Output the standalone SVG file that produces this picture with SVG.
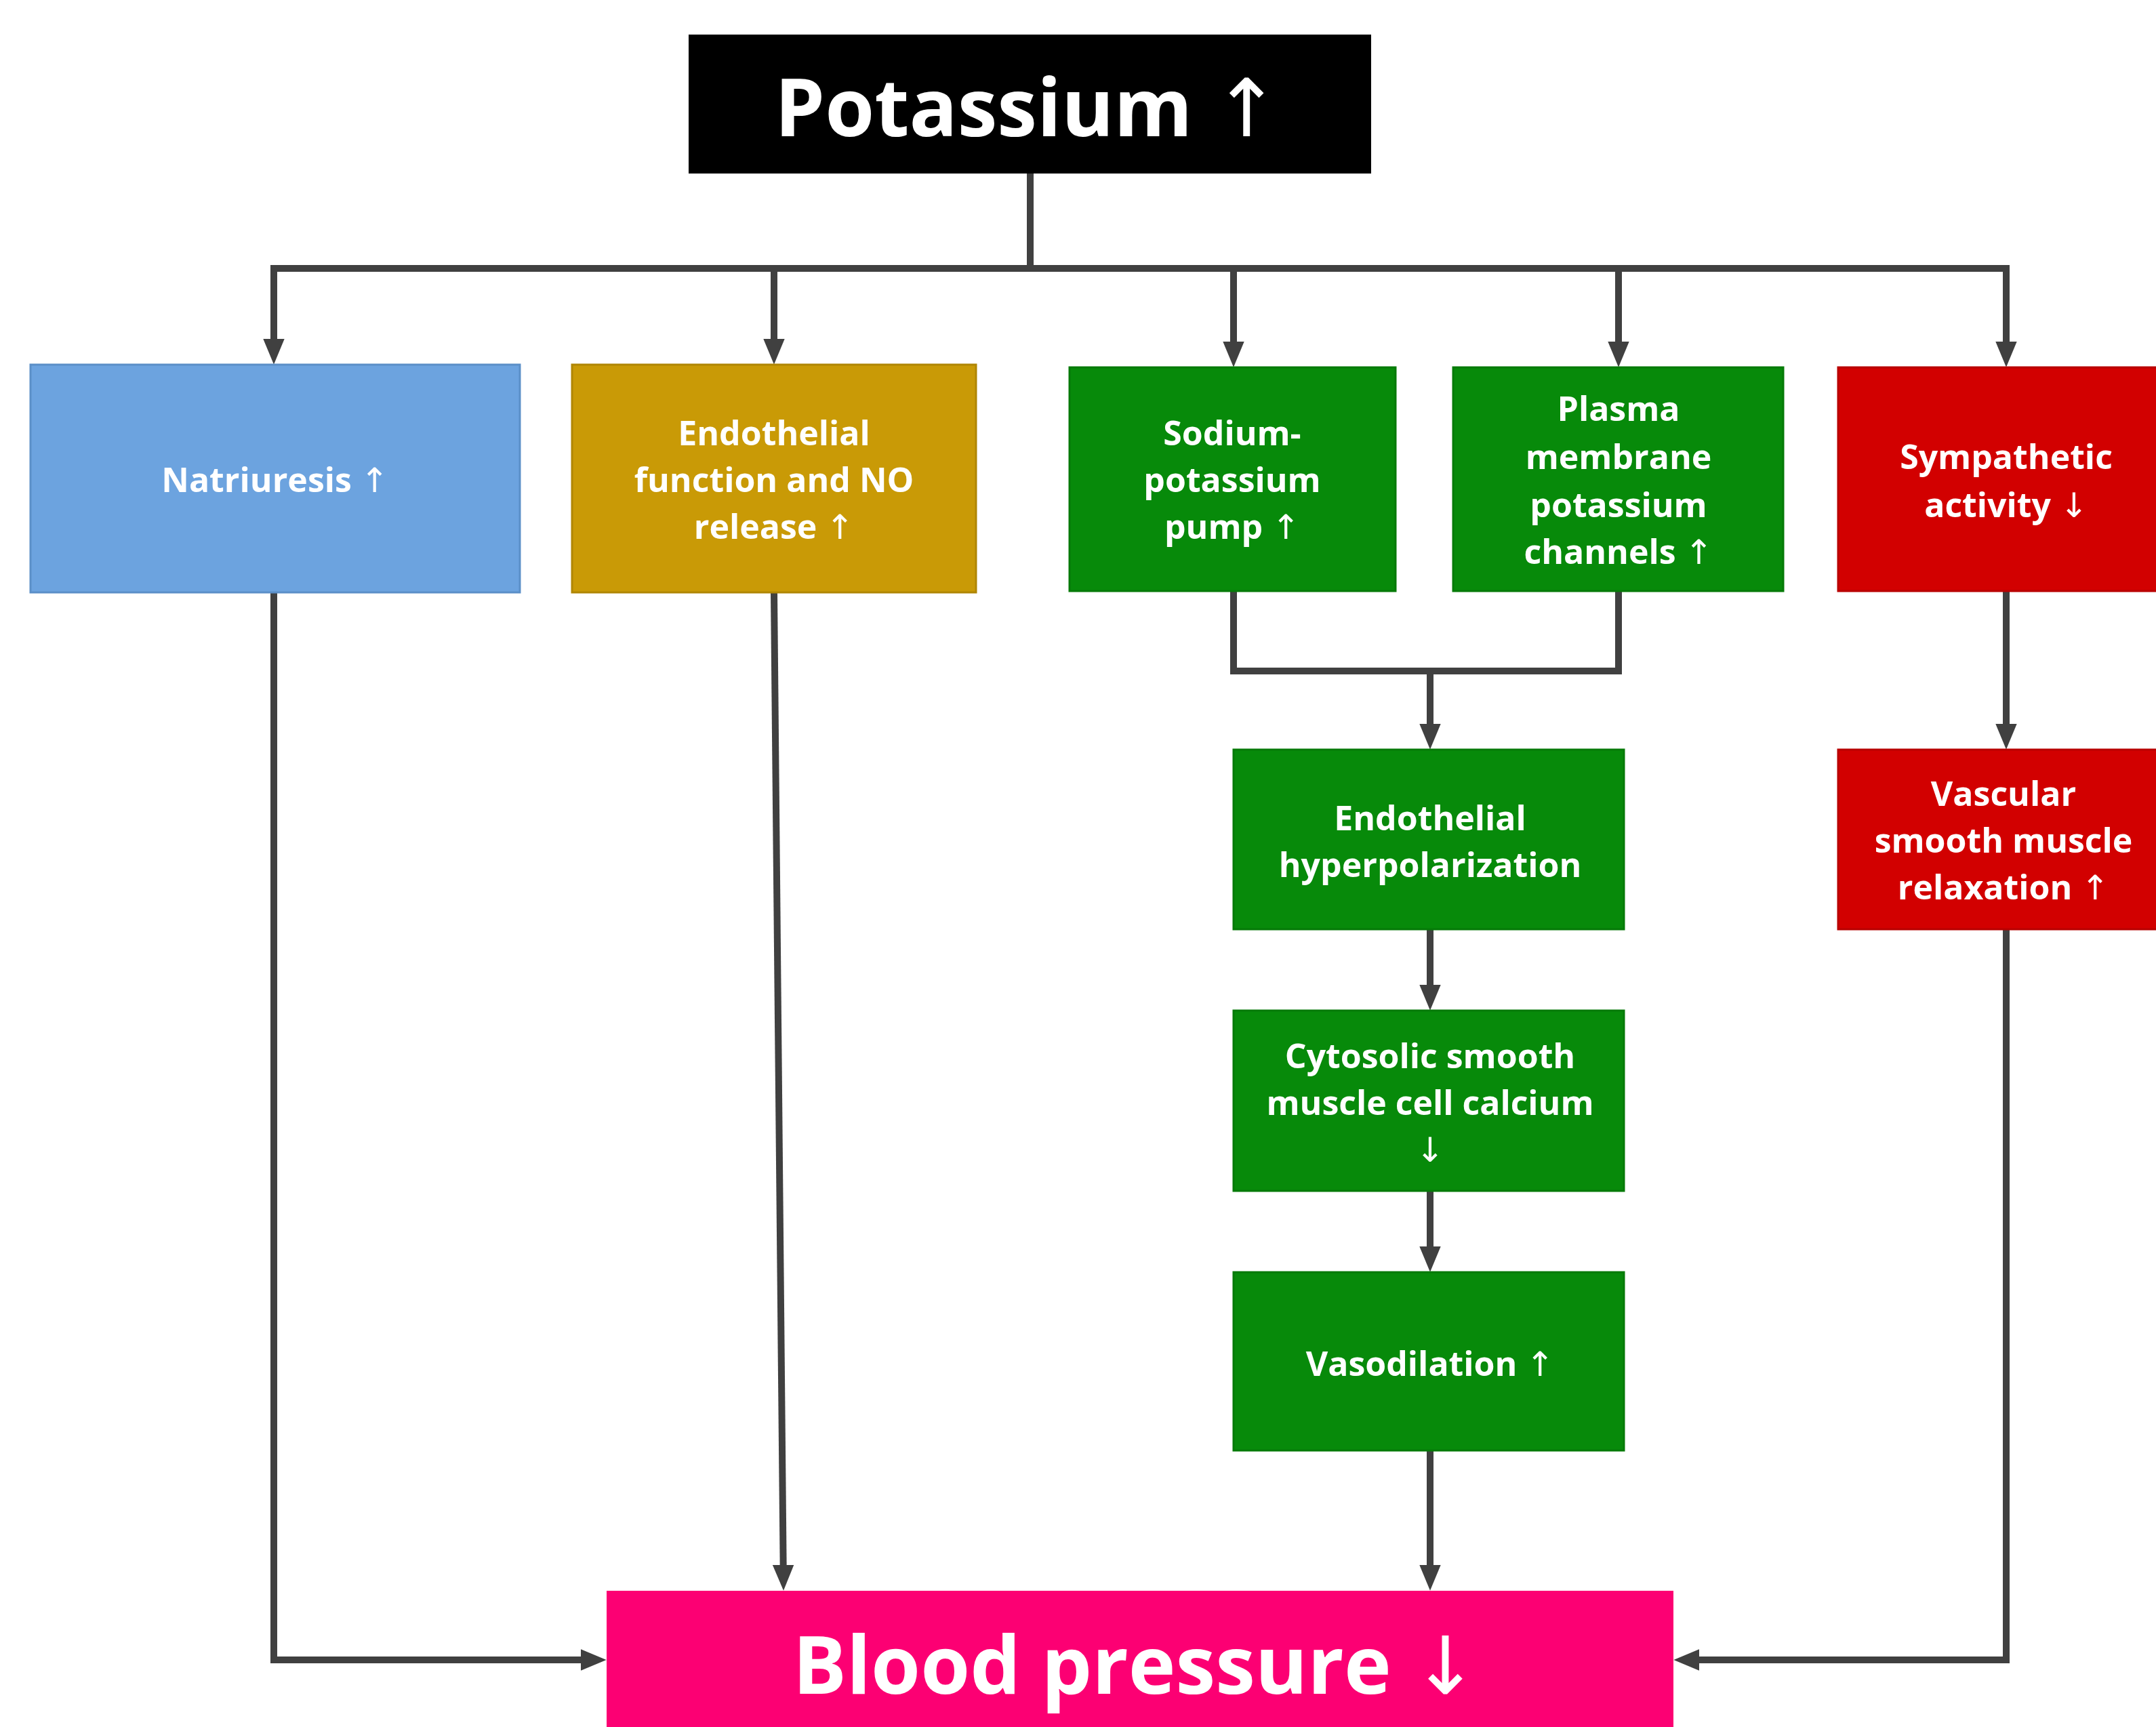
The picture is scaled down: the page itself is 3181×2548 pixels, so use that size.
<svg xmlns="http://www.w3.org/2000/svg" width="3181" height="2548" viewBox="0 0 3181 2548">
<style>
.t{font-family:"Open Sans","Liberation Sans",sans-serif;font-weight:bold;fill:#fff;text-anchor:middle}
.s{font-size:50px}
.b{font-size:118px}
.a{font-family:"DejaVu Sans",sans-serif;font-weight:normal}
.c{fill:none;stroke:#404040;stroke-width:10;stroke-linejoin:miter}
.blue{fill:#6CA3DF;stroke:#5B8FC8;stroke-width:3}
.gold{fill:#C99A06;stroke:#B08604;stroke-width:3}
.green{fill:#078A0A;stroke:#067A08;stroke-width:3}
.red{fill:#D20000;stroke:#B80000;stroke-width:3}
</style>
<defs>
<marker id="ah" viewBox="0 0 12 10" refX="2" refY="5" markerWidth="38" markerHeight="32" markerUnits="userSpaceOnUse" orient="auto">
<path d="M0,0 L12,5 L0,10 z" fill="#404040"/>
</marker>
</defs>
<rect width="3181" height="2548" fill="#fff"/>
<g id="connectors">
<path class="c" d="M1520,256 V396"/>
<path class="c" d="M404,396 H2960" stroke-linecap="square"/>
<path class="c" d="M404,396 V506" marker-end="url(#ah)"/>
<path class="c" d="M1142,396 V506" marker-end="url(#ah)"/>
<path class="c" d="M1820,396 V510" marker-end="url(#ah)"/>
<path class="c" d="M2388,396 V510" marker-end="url(#ah)"/>
<path class="c" d="M2960,396 V510" marker-end="url(#ah)"/>
<path class="c" d="M1820,872 V990 H2388 V872"/>
<path class="c" d="M2110,990 V1074" marker-end="url(#ah)"/>
<path class="c" d="M2110,1371 V1459" marker-end="url(#ah)"/>
<path class="c" d="M2110,1757 V1845" marker-end="url(#ah)"/>
<path class="c" d="M2110,2140 V2315" marker-end="url(#ah)"/>
<path class="c" d="M2960,872 V1074" marker-end="url(#ah)"/>
<path class="c" d="M2960,1371 V2449 H2501" marker-end="url(#ah)"/>
<path class="c" d="M404,874 V2449 H863" marker-end="url(#ah)"/>
<path class="c" d="M1142,874 L1155.7,2315" marker-end="url(#ah)"/>
</g>
<g id="potassium">
<rect x="1016" y="51" width="1007" height="205" fill="#000"/>
<text class="t b" x="1516" y="201">Potassium <tspan class="a">↑</tspan></text>
</g>
<g id="natriuresis">
<rect class="blue" x="45" y="538" width="722" height="336"/>
<text class="t s" x="406" y="726">Natriuresis <tspan class="a">↑</tspan></text>
</g>
<g id="endothelial-function">
<rect class="gold" x="844" y="538" width="596" height="336"/>
<text class="t s" x="1142" y="657">Endothelial</text>
<text class="t s" x="1142" y="726">function and NO</text>
<text class="t s" x="1142" y="795">release <tspan class="a">↑</tspan></text>
</g>
<g id="sodium-potassium-pump">
<rect class="green" x="1578" y="542" width="481" height="330"/>
<text class="t s" x="1818" y="657">Sodium-</text>
<text class="t s" x="1818" y="726">potassium</text>
<text class="t s" x="1818" y="795">pump <tspan class="a">↑</tspan></text>
</g>
<g id="plasma-membrane">
<rect class="green" x="2144" y="542" width="487" height="330"/>
<text class="t s" x="2388" y="621">Plasma</text>
<text class="t s" x="2388" y="692">membrane</text>
<text class="t s" x="2388" y="763">potassium</text>
<text class="t s" x="2388" y="832">channels <tspan class="a">↑</tspan></text>
</g>
<g id="sympathetic">
<rect class="red" x="2712" y="542" width="480" height="330"/>
<text class="t s" x="2960" y="692">Sympathetic</text>
<text class="t s" x="2960" y="763">activity <tspan class="a">↓</tspan></text>
</g>
<g id="hyperpolarization">
<rect class="green" x="1820" y="1106" width="576" height="265"/>
<text class="t s" x="2110" y="1225">Endothelial</text>
<text class="t s" x="2110" y="1294">hyperpolarization</text>
</g>
<g id="cytosolic">
<rect class="green" x="1820" y="1491" width="576" height="266"/>
<text class="t s" x="2110" y="1576">Cytosolic smooth</text>
<text class="t s" x="2110" y="1645">muscle cell calcium</text>
<text class="t s" x="2110" y="1714"><tspan class="a">↓</tspan></text>
</g>
<g id="vasodilation">
<rect class="green" x="1820" y="1877" width="576" height="263"/>
<text class="t s" x="2110" y="2030">Vasodilation <tspan class="a">↑</tspan></text>
</g>
<g id="vascular">
<rect class="red" x="2712" y="1106" width="480" height="265"/>
<text class="t s" x="2956" y="1189">Vascular</text>
<text class="t s" x="2956" y="1258">smooth muscle</text>
<text class="t s" x="2956" y="1327">relaxation <tspan class="a">↑</tspan></text>
</g>
<g id="blood-pressure">
<rect x="895" y="2347" width="1574" height="220" fill="#FC0073"/>
<text class="t b" x="1676" y="2499">Blood pressure <tspan class="a">↓</tspan></text>
</g>
</svg>
